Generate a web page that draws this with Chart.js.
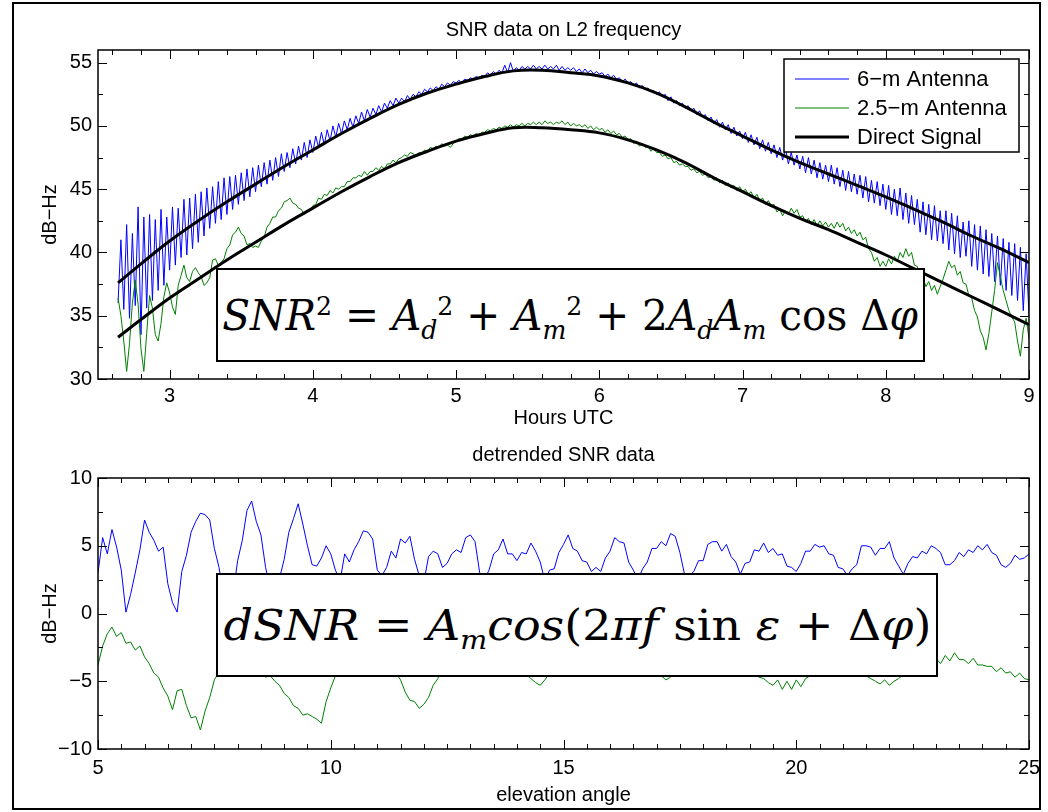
<!DOCTYPE html>
<html lang="en">
<head>
<meta charset="UTF-8">
<title>SNR data on L2 frequency</title>
<script src="https://cdn.jsdelivr.net/npm/chart.js"></script>
<style>
  body { margin: 0; background: #fff; }
  #page { position: relative; width: 1048px; height: 812px; overflow: hidden; background: #fff; }
  #frame { position: absolute; left: 12px; top: 2px; width: 1029px; height: 808px; border: 2px solid #000; box-sizing: border-box; }
  canvas { position: absolute; left: 0; }
  #snrChart { top: 0; }
  #dsnrChart { top: 440px; }
  .eq {
    position: absolute; background: #fff; border: 2px solid #000; box-sizing: border-box;
    display: flex; align-items: center; justify-content: center;
    font-family: 'DejaVu Serif', 'Liberation Serif', serif; color: #000; white-space: nowrap;
  }
  .eq span.txt { display: inline-block; transform-origin: center center; }
  .eq sub, .eq sup { font-size: 0.62em; line-height: 0; }
  #eqTop { left: 216px; top: 268px; width: 709px; height: 94px; font-size: 42px; }
  #eqBottom { left: 216px; top: 573px; width: 722px; height: 104px; font-size: 42px; }
</style>
</head>
<body>
<div id="page">
  <div id="frame"></div>
  <canvas id="snrChart" width="1048" height="440"></canvas>
  <canvas id="dsnrChart" width="1048" height="372"></canvas>
  <div class="eq" id="eqTop"><span class="txt" data-fit="696"><i>SNR</i><sup>2</sup> = <i>A</i><sub><i>d</i></sub><sup>2</sup> + <i>A</i><sub><i>m</i></sub><sup>2</sup> + 2<i>A</i><sub><i>d</i></sub><i>A</i><sub><i>m</i></sub> cos Δ<i>φ</i></span></div>
  <div class="eq" id="eqBottom"><span class="txt" data-fit="708"><i>dSNR</i> = <i>A</i><sub><i>m</i></sub><i>cos</i>(2<i>πf</i> sin <i>ε</i> + Δ<i>φ</i>)</span></div>
</div>
<script>
// ---- SNR on L2, hours UTC (samples every hourStep from hourStart) ----
const hourStart = 2.64;
const hourStep = 0.02;

const snr6m = [
  36.0, 41.0, 35.5, 42.2, 34.8, 41.5, 35.8, 43.6, 33.5,
  42.8, 35.6, 43.0, 36.2, 42.6, 37.0, 43.4, 37.4, 42.8, 38.6,
  43.6, 39.0, 43.5, 39.6, 44.2, 39.8, 44.3, 40.3, 44.6, 40.8,
  44.8, 41.3, 45.1, 41.9, 45.2, 42.3, 45.6, 42.6, 45.9, 43.0,
  46.0, 43.4, 46.1, 43.8, 46.3, 44.1, 46.6, 44.4, 46.7, 44.8,
  46.9, 45.2, 47.1, 45.4, 47.3, 45.7, 47.5, 46.0, 47.8, 46.4,
  47.9, 46.7, 48.2, 47.0, 48.4, 47.3, 48.7, 47.5, 48.9, 47.9,
  49.2, 48.3, 49.5, 48.5, 49.7, 48.8, 50.0, 49.1, 50.2, 49.4,
  50.4, 49.7, 50.6, 49.9, 50.8, 50.2, 51.1, 50.4, 51.3, 50.7,
  51.4, 50.9, 51.6, 51.1, 51.8, 51.4, 52.0, 51.6, 52.2, 51.8,
  52.2, 51.9, 52.4, 52.1, 52.5, 52.3, 52.7, 52.5, 52.9, 52.7,
  53.0, 52.8, 53.1, 52.9, 53.3, 53.1, 53.4, 53.2, 53.5, 53.4,
  53.6, 53.4, 53.7, 53.6, 53.8, 53.7, 53.9, 53.8, 54.0, 53.9,
  54.2, 54.0, 54.3, 54.1, 54.4, 54.2, 54.8, 54.2, 55.0, 54.3,
  54.6, 54.4, 54.7, 54.5, 54.7, 54.5, 54.8, 54.5, 54.7, 54.5,
  54.8, 54.5, 54.7, 54.5, 54.8, 54.4, 54.7, 54.4, 54.6, 54.4,
  54.6, 54.3, 54.5, 54.2, 54.5, 54.2, 54.4, 54.1, 54.3, 54.1,
  54.2, 53.9, 54.1, 53.8, 54.0, 53.7, 53.8, 53.5, 53.7, 53.4,
  53.5, 53.2, 53.4, 53.0, 53.2, 52.9, 53.0, 52.7, 52.8, 52.5,
  52.7, 52.3, 52.5, 52.0, 52.3, 51.8, 52.0, 51.6, 51.8, 51.4,
  51.6, 51.2, 51.4, 50.9, 51.2, 50.7, 50.9, 50.4, 50.7, 50.2,
  50.5, 49.9, 50.3, 49.7, 50.1, 49.4, 49.9, 49.2, 49.6, 49.0,
  49.5, 48.7, 49.3, 48.5, 49.1, 48.2, 48.9, 48.0, 48.7, 47.8,
  48.5, 47.5, 48.3, 47.3, 48.2, 47.0, 47.9, 46.9, 47.7, 46.6,
  47.6, 46.3, 47.5, 46.2, 47.3, 45.9, 47.1, 45.8, 46.9, 45.6,
  46.9, 45.4, 46.7, 45.2, 46.5, 44.9, 46.4, 44.8, 46.2, 44.6,
  46.1, 44.3, 46.0, 44.0, 45.7, 43.9, 45.6, 43.7, 45.4, 43.4,
  45.3, 43.0, 45.0, 42.9, 45.1, 42.6, 44.7, 42.3, 44.5, 42.2,
  44.2, 41.6, 44.0, 41.4, 43.8, 41.0, 43.7, 40.9, 43.3, 40.7,
  43.3, 40.2, 43.1, 39.9, 42.9, 39.6, 42.4, 39.7, 42.5, 38.9,
  42.2, 38.6, 42.1, 38.3, 41.8, 38.1, 41.5, 37.7, 41.3, 37.4,
  41.1, 37.0, 40.8, 36.6, 40.7, 36.2, 40.4, 35.4, 39.9, 35.0
];

const snr25m = [
  36.4, 35.0, 33.0, 30.6, 32.8, 36.0, 37.8, 35.9, 32.4,
  30.6, 33.6, 36.6, 35.6, 33.5, 33.0, 34.4, 36.5, 37.6, 36.8,
  35.7, 35.1, 37.4, 38.2, 39.0, 38.0, 37.7, 38.5, 38.8, 38.4,
  38.1, 37.4, 37.6, 38.0, 39.4, 39.5, 39.0, 39.2, 39.5, 40.3,
  40.6, 41.4, 41.6, 42.0, 41.5, 41.3, 40.6, 40.7, 40.4, 40.5,
  40.4, 40.9, 41.2, 42.0, 42.3, 42.8, 42.8, 43.3, 43.5, 44.0,
  44.1, 44.3, 43.9, 43.8, 43.5, 43.4, 43.0, 43.3, 43.3, 43.7,
  43.8, 44.3, 44.2, 44.6, 44.5, 44.9, 44.7, 45.1, 45.0, 45.2,
  45.2, 45.6, 45.6, 45.9, 45.9, 46.1, 46.0, 46.4, 46.1, 46.4,
  46.4, 46.7, 46.5, 46.8, 46.6, 47.0, 47.0, 47.3, 47.1, 47.4,
  47.5, 47.7, 47.6, 47.9, 47.8, 47.6, 47.9, 47.8, 48.1, 48.0,
  48.3, 48.2, 48.4, 48.3, 48.6, 48.4, 48.5, 48.3, 48.6, 48.8,
  49.0, 48.9, 49.2, 49.1, 49.3, 49.2, 49.4, 49.3, 49.5, 49.5,
  49.7, 49.6, 49.8, 49.7, 49.9, 49.8, 50.0, 49.9, 50.1, 49.9,
  50.1, 50.0, 50.2, 50.0, 50.2, 50.1, 50.3, 50.1, 50.3, 50.1,
  50.4, 50.2, 50.3, 50.1, 50.3, 50.2, 50.4, 50.1, 50.3, 50.0,
  50.2, 50.0, 50.1, 49.9, 50.1, 49.8, 50.0, 49.7, 49.9, 49.7,
  49.8, 49.5, 49.7, 49.4, 49.6, 49.3, 49.4, 49.1, 49.2, 48.9,
  49.0, 48.6, 48.8, 48.4, 48.6, 48.3, 48.4, 48.0, 48.2, 47.9,
  47.9, 47.6, 47.7, 47.4, 47.5, 47.1, 47.2, 46.9, 47.0, 46.8,
  46.8, 46.5, 46.6, 46.3, 46.4, 46.1, 46.2, 45.9, 46.0, 45.7,
  45.9, 45.5, 45.7, 45.3, 45.5, 45.1, 45.3, 44.9, 45.2, 44.8,
  45.0, 44.6, 44.8, 44.3, 44.6, 44.1, 44.3, 43.8, 44.1, 43.7,
  43.8, 43.2, 43.4, 42.9, 43.3, 43.0, 43.5, 43.1, 43.4, 42.8,
  42.9, 42.4, 42.7, 42.2, 42.6, 42.1, 42.5, 42.1, 42.4, 42.0,
  42.3, 41.9, 42.4, 42.0, 42.3, 41.7, 42.0, 41.5, 41.8, 41.3,
  41.6, 41.0, 41.2, 40.3, 40.0, 39.3, 39.6, 38.9, 39.3, 38.9,
  39.5, 39.1, 39.7, 39.3, 40.0, 39.6, 40.3, 39.7, 40.0, 39.0,
  38.9, 37.9, 38.0, 37.3, 37.7, 37.0, 37.4, 36.7, 37.3, 37.9,
  38.6, 39.3, 38.8, 39.0, 38.2, 38.5, 37.6, 37.5, 36.6, 36.4,
  35.4, 34.9, 33.8, 33.3, 32.3, 33.6, 35.3, 37.0, 39.2, 38.1,
  37.0, 36.2, 35.4, 34.9, 34.5, 33.0, 31.8, 33.9, 34.8, 33.2
];

// fitted direct-signal curves
const fitHours = [2.64, 2.8, 3.0, 3.2, 3.4, 3.6, 3.8, 4.0, 4.2, 4.4, 4.6, 4.8, 5.0, 5.2, 5.4, 5.6, 5.8,
                  6.0, 6.2, 6.4, 6.6, 6.8, 7.0, 7.2, 7.4, 7.6, 7.8, 8.0, 8.2, 8.4, 8.6, 8.8, 9.0];
const direct6m = [37.6, 39.1, 40.9, 42.5, 44.0, 45.4, 46.8, 48.1, 49.4, 50.6, 51.7, 52.6, 53.3, 53.9, 54.35, 54.4, 54.2,
                  53.95, 53.4, 52.6, 51.5, 50.3, 49.2, 48.1, 47.1, 46.2, 45.3, 44.4, 43.4, 42.4, 41.3, 40.3, 39.2];
const direct25m = [33.3, 34.7, 36.4, 37.9, 39.4, 40.8, 42.2, 43.5, 44.8, 46.0, 47.1, 48.0, 48.8, 49.4, 49.85, 49.85, 49.7,
                   49.45, 48.9, 48.1, 47.1, 45.9, 44.8, 43.7, 42.7, 41.8, 40.8, 39.8, 38.7, 37.6, 36.5, 35.4, 34.3];

// ---- detrended SNR vs elevation angle (samples every elevStep from elevStart) ----
const elevStart = 5;
const elevStep = 0.1;

const dsnr6m = [
  3.0, 5.6, 4.4, 6.2, 4.9, 3.2, 0.1, 1.4, 3.0, 4.7,
  6.9, 6.0, 5.4, 4.6, 4.9, 2.2, 0.8, 0.1, 3.1, 4.3,
  6.0, 6.8, 7.4, 7.3, 6.9, 4.8, 3.4, 1.3, 0.9, 1.4,
  3.9, 5.4, 7.6, 8.3, 6.8, 5.8, 3.4, 1.9, 0.6, 2.6,
  4.0, 6.0, 7.0, 8.1, 6.6, 5.0, 3.6, 3.5, 4.1, 5.0,
  4.4, 3.2, 2.4, 4.4, 3.8, 4.7, 5.3, 6.1, 6.0, 5.5,
  3.2, 2.8, 3.4, 4.6, 4.1, 5.5, 5.2, 5.7, 4.0, 2.8,
  2.3, 4.2, 4.6, 4.4, 3.4, 3.7, 4.4, 4.7, 4.5, 5.6,
  5.8, 5.3, 3.0, 2.5, 3.2, 4.4, 4.7, 5.5, 4.4, 4.4,
  3.9, 4.5, 4.4, 5.2, 4.6, 3.8, 2.4, 3.2, 3.3, 4.5,
  5.1, 5.8, 4.8, 4.6, 3.9, 3.8, 3.1, 3.4, 3.1, 4.1,
  4.6, 5.6, 5.3, 5.2, 3.8, 3.2, 2.5, 3.3, 3.8, 4.8,
  4.8, 5.3, 5.0, 5.9, 5.7, 4.5, 2.9, 2.8, 3.1, 3.9,
  3.9, 5.1, 5.3, 5.3, 4.6, 5.1, 4.2, 3.8, 2.9, 3.7,
  3.8, 4.7, 4.6, 5.2, 4.5, 4.8, 4.3, 4.4, 3.5, 3.4,
  3.1, 3.7, 4.6, 4.6, 5.1, 4.9, 5.0, 4.4, 4.3, 3.4,
  3.3, 2.8, 3.3, 3.6, 5.0, 5.0, 4.9, 4.3, 4.8, 4.8,
  5.3, 4.1, 3.5, 2.9, 3.7, 4.2, 4.1, 4.6, 4.4, 5.0,
  4.8, 4.5, 3.6, 3.6, 3.9, 4.5, 4.2, 4.7, 4.5, 5.0,
  4.7, 5.1, 4.5, 4.3, 3.6, 3.4, 3.7, 4.3, 4.0, 4.1,
  4.4
];

const dsnr25m = [
  -3.8, -2.4, -1.5, -1.0, -1.7, -1.4, -2.2, -2.1, -2.7, -2.4,
  -3.2, -3.7, -4.4, -4.7, -5.5, -6.1, -7.1, -5.7, -5.6, -6.8,
  -7.7, -7.6, -8.6, -7.2, -6.2, -4.9, -4.3, -3.1, -2.5, -1.8,
  -1.8, -2.1, -2.9, -3.5, -4.1, -4.2, -4.7, -4.6, -5.0, -5.3,
  -5.9, -6.2, -6.8, -7.0, -7.5, -7.4, -7.6, -7.8, -8.1, -6.5,
  -5.5, -4.6, -3.8, -3.2, -3.0, -3.3, -3.5, -3.4, -3.8, -4.0,
  -3.8, -3.5, -3.9, -4.2, -4.4, -4.9, -5.8, -6.4, -6.5, -7.0,
  -6.7, -6.2, -5.3, -4.8, -4.0, -3.6, -3.2, -3.4, -3.8, -4.1,
  -4.2, -3.8, -3.3, -3.0, -3.3, -3.7, -3.6, -3.4, -3.8, -4.2,
  -4.4, -4.6, -4.5, -4.8, -5.1, -5.3, -4.9, -4.4, -3.9, -3.5,
  -3.3, -3.1, -3.4, -3.6, -3.5, -3.9, -4.2, -4.0, -3.8, -3.6,
  -3.3, -3.5, -3.8, -4.0, -3.7, -3.4, -3.6, -3.9, -4.1, -4.3,
  -4.4, -4.6, -4.9, -4.7, -4.3, -3.9, -3.6, -3.4, -3.5, -3.7,
  -3.6, -3.8, -4.0, -3.7, -3.5, -3.6, -3.9, -4.2, -4.0, -4.3,
  -4.5, -4.4, -4.7, -4.8, -5.1, -5.3, -4.9, -5.6, -5.0, -5.6,
  -4.9, -5.4, -4.8, -4.6, -4.2, -3.8, -3.6, -3.7, -3.9, -3.6,
  -3.5, -3.8, -4.1, -4.3, -4.5, -4.6, -4.8, -5.0, -5.2, -4.9,
  -5.3, -5.0, -4.8, -4.5, -4.2, -3.9, -3.6, -3.4, -3.5, -3.3,
  -3.3, -3.7, -3.1, -3.5, -2.9, -3.4, -3.4, -3.7, -3.3, -3.8,
  -3.8, -3.9, -3.9, -4.3, -4.0, -4.4, -4.3, -4.7, -4.4, -4.8,
  -4.9
];

// axis ticks
const hourTicks = [3, 4, 5, 6, 7, 8, 9];
const snrTicks = [30, 35, 40, 45, 50, 55];
const elevTicks = [5, 10, 15, 20, 25];
const dsnrTicks = [-10, -5, 0, 5, 10];

const BLUE = '#0000ff', GREEN = '#008000', BLACK = '#000000';
const FONT = 20;
const FAMILY = "'Liberation Sans', Arial, Helvetica, sans-serif";

Chart.defaults.font.family = FAMILY;
Chart.defaults.font.size = FONT;
Chart.defaults.color = '#000';

function sampled(values, start, step) {
  return values.map((v, i) => ({ x: +(start + i * step).toFixed(3), y: v }));
}
function paired(xs, ys) {
  return xs.map((x, i) => ({ x: x, y: ys[i] }));
}
const minus = v => String(v).replace('-', '\u2212');

// closed box with inward major/minor ticks on all four sides, title centred over the box
const boxAxes = {
  id: 'boxAxes',
  afterDatasetsDraw(chart, args, opts) {
    const { ctx, chartArea: a, scales: { x, y } } = chart;
    const majX = x.ticks.map(t => t.value), majY = y.ticks.map(t => t.value);
    const isMajor = (list, v) => list.some(m => Math.abs(m - v) < 1e-6);
    ctx.save();
    ctx.strokeStyle = '#000';
    ctx.lineWidth = 1;
    ctx.beginPath();
    for (let k = Math.ceil(x.min / opts.xMinor - 1e-9); k * opts.xMinor <= x.max + 1e-9; k++) {
      const v = k * opts.xMinor;
      const px = Math.round(x.getPixelForValue(v)) + 0.5;
      const len = isMajor(majX, v) ? opts.major : opts.minor;
      ctx.moveTo(px, a.bottom); ctx.lineTo(px, a.bottom - len);
      ctx.moveTo(px, a.top); ctx.lineTo(px, a.top + len);
    }
    for (let k = Math.ceil(y.min / opts.yMinor - 1e-9); k * opts.yMinor <= y.max + 1e-9; k++) {
      const v = k * opts.yMinor;
      const py = Math.round(y.getPixelForValue(v)) + 0.5;
      const len = isMajor(majY, v) ? opts.major : opts.minor;
      ctx.moveTo(a.left, py); ctx.lineTo(a.left + len, py);
      ctx.moveTo(a.right, py); ctx.lineTo(a.right - len, py);
    }
    ctx.stroke();
    ctx.lineWidth = 1.5;
    ctx.strokeRect(a.left, a.top, a.right - a.left, a.bottom - a.top);

    ctx.fillStyle = '#000';
    ctx.font = opts.titleSize + 'px ' + FAMILY;
    ctx.textAlign = 'center';
    ctx.textBaseline = 'middle';
    ctx.fillText(opts.title, (a.left + a.right) / 2, opts.titleY);
    ctx.restore();
  }
};

// boxed legend in the upper right corner of the plot area
const boxLegend = {
  id: 'boxLegend',
  afterDraw(chart, args, opts) {
    if (!opts.show) return;
    const { ctx, chartArea: a } = chart;
    const seen = new Set();
    const items = chart.data.datasets.filter(d => !seen.has(d.label) && seen.add(d.label));
    const w = opts.width, h = opts.height;
    const left = a.right - opts.right - w, top = a.top + opts.top;
    ctx.save();
    ctx.fillStyle = '#fff';
    ctx.fillRect(left, top, w, h);
    ctx.strokeStyle = '#000';
    ctx.lineWidth = 1.5;
    ctx.strokeRect(left, top, w, h);
    ctx.font = opts.fontSize + 'px ' + FAMILY;
    ctx.textBaseline = 'middle';
    ctx.fillStyle = '#000';
    items.forEach((d, i) => {
      const yy = top + opts.firstRow + i * opts.rowGap;
      ctx.strokeStyle = d.borderColor;
      ctx.lineWidth = d.borderWidth;
      ctx.beginPath();
      ctx.moveTo(left + 11, yy);
      ctx.lineTo(left + 65, yy);
      ctx.stroke();
      ctx.fillText(d.label, left + 73, yy + 1);
    });
    ctx.restore();
  }
};

function lineSet(label, data, color, width, order, smooth) {
  return {
    label: label, data: data, borderColor: color, borderWidth: width, order: order,
    pointRadius: 0, tension: smooth ? 0.4 : 0, fill: false
  };
}

function axisOptions(min, max, ticks, title, size, tickPad, titlePad) {
  return {
    type: 'linear', min: min, max: max,
    afterBuildTicks: s => { s.ticks = ticks.map(value => ({ value })); },
    grid: { display: false, drawTicks: false },
    border: { display: false },
    ticks: { autoSkip: false, maxRotation: 0, padding: tickPad, callback: v => minus(v) },
    title: { display: true, text: title, padding: titlePad },
    afterFit: s => { if (s.isHorizontal()) s.height = size; else s.width = size; }
  };
}

new Chart(document.getElementById('snrChart'), {
  type: 'line',
  data: {
    datasets: [
      lineSet('6\u2212m Antenna', sampled(snr6m, hourStart, hourStep), BLUE, 1, 2, false),
      lineSet('2.5\u2212m Antenna', sampled(snr25m, hourStart, hourStep), GREEN, 1, 1, false),
      lineSet('Direct Signal', paired(fitHours, direct6m), BLACK, 3, 0, true),
      lineSet('Direct Signal', paired(fitHours, direct25m), BLACK, 3, 0, true)
    ]
  },
  options: {
    responsive: false, animation: false, devicePixelRatio: 1,
    layout: { padding: { left: 0, right: 19, top: 50, bottom: 0 } },
    scales: {
      x: axisOptions(2.5, 9, hourTicks, 'Hours UTC', 61, 5, { top: 0, bottom: 10 }),
      y: axisOptions(30, 56, snrTicks, 'dB\u2212Hz', 98, 6, { top: 38, bottom: 0 })
    },
    plugins: {
      legend: { display: false },
      tooltip: { enabled: false },
      boxAxes: { xMinor: 0.2, yMinor: 2.5, major: 9, minor: 5, title: 'SNR data on L2 frequency', titleY: 30, titleSize: FONT },
      boxLegend: { show: true, width: 235, height: 93, right: 10, top: 9, firstRow: 20, rowGap: 29, fontSize: 22 }
    }
  },
  plugins: [boxAxes, boxLegend]
});

new Chart(document.getElementById('dsnrChart'), {
  type: 'line',
  data: {
    datasets: [
      lineSet('6\u2212m Antenna', sampled(dsnr6m, elevStart, elevStep), BLUE, 1, 2, false),
      lineSet('2.5\u2212m Antenna', sampled(dsnr25m, elevStart, elevStep), GREEN, 1, 1, false)
    ]
  },
  options: {
    responsive: false, animation: false, devicePixelRatio: 1,
    layout: { padding: { left: 0, right: 19, top: 38, bottom: 0 } },
    scales: {
      x: axisOptions(5, 25, elevTicks, 'elevation angle', 63, 7, { top: 0, bottom: 5 }),
      y: axisOptions(-10, 10, dsnrTicks, 'dB\u2212Hz', 98, 6, { top: 38, bottom: 0 })
    },
    plugins: {
      legend: { display: false },
      tooltip: { enabled: false },
      boxAxes: { xMinor: 0.5, yMinor: 2.5, major: 9, minor: 5, title: 'detrended SNR data', titleY: 15, titleSize: FONT },
      boxLegend: { show: false }
    }
  },
  plugins: [boxAxes, boxLegend]
});

// stretch each equation line to the width of its box
document.querySelectorAll('.eq .txt').forEach(el => {
  const target = +el.dataset.fit;
  const w = el.getBoundingClientRect().width;
  el.style.transform = 'scaleX(' + (target / w).toFixed(3) + ')';
});
</script>
</body>
</html>
